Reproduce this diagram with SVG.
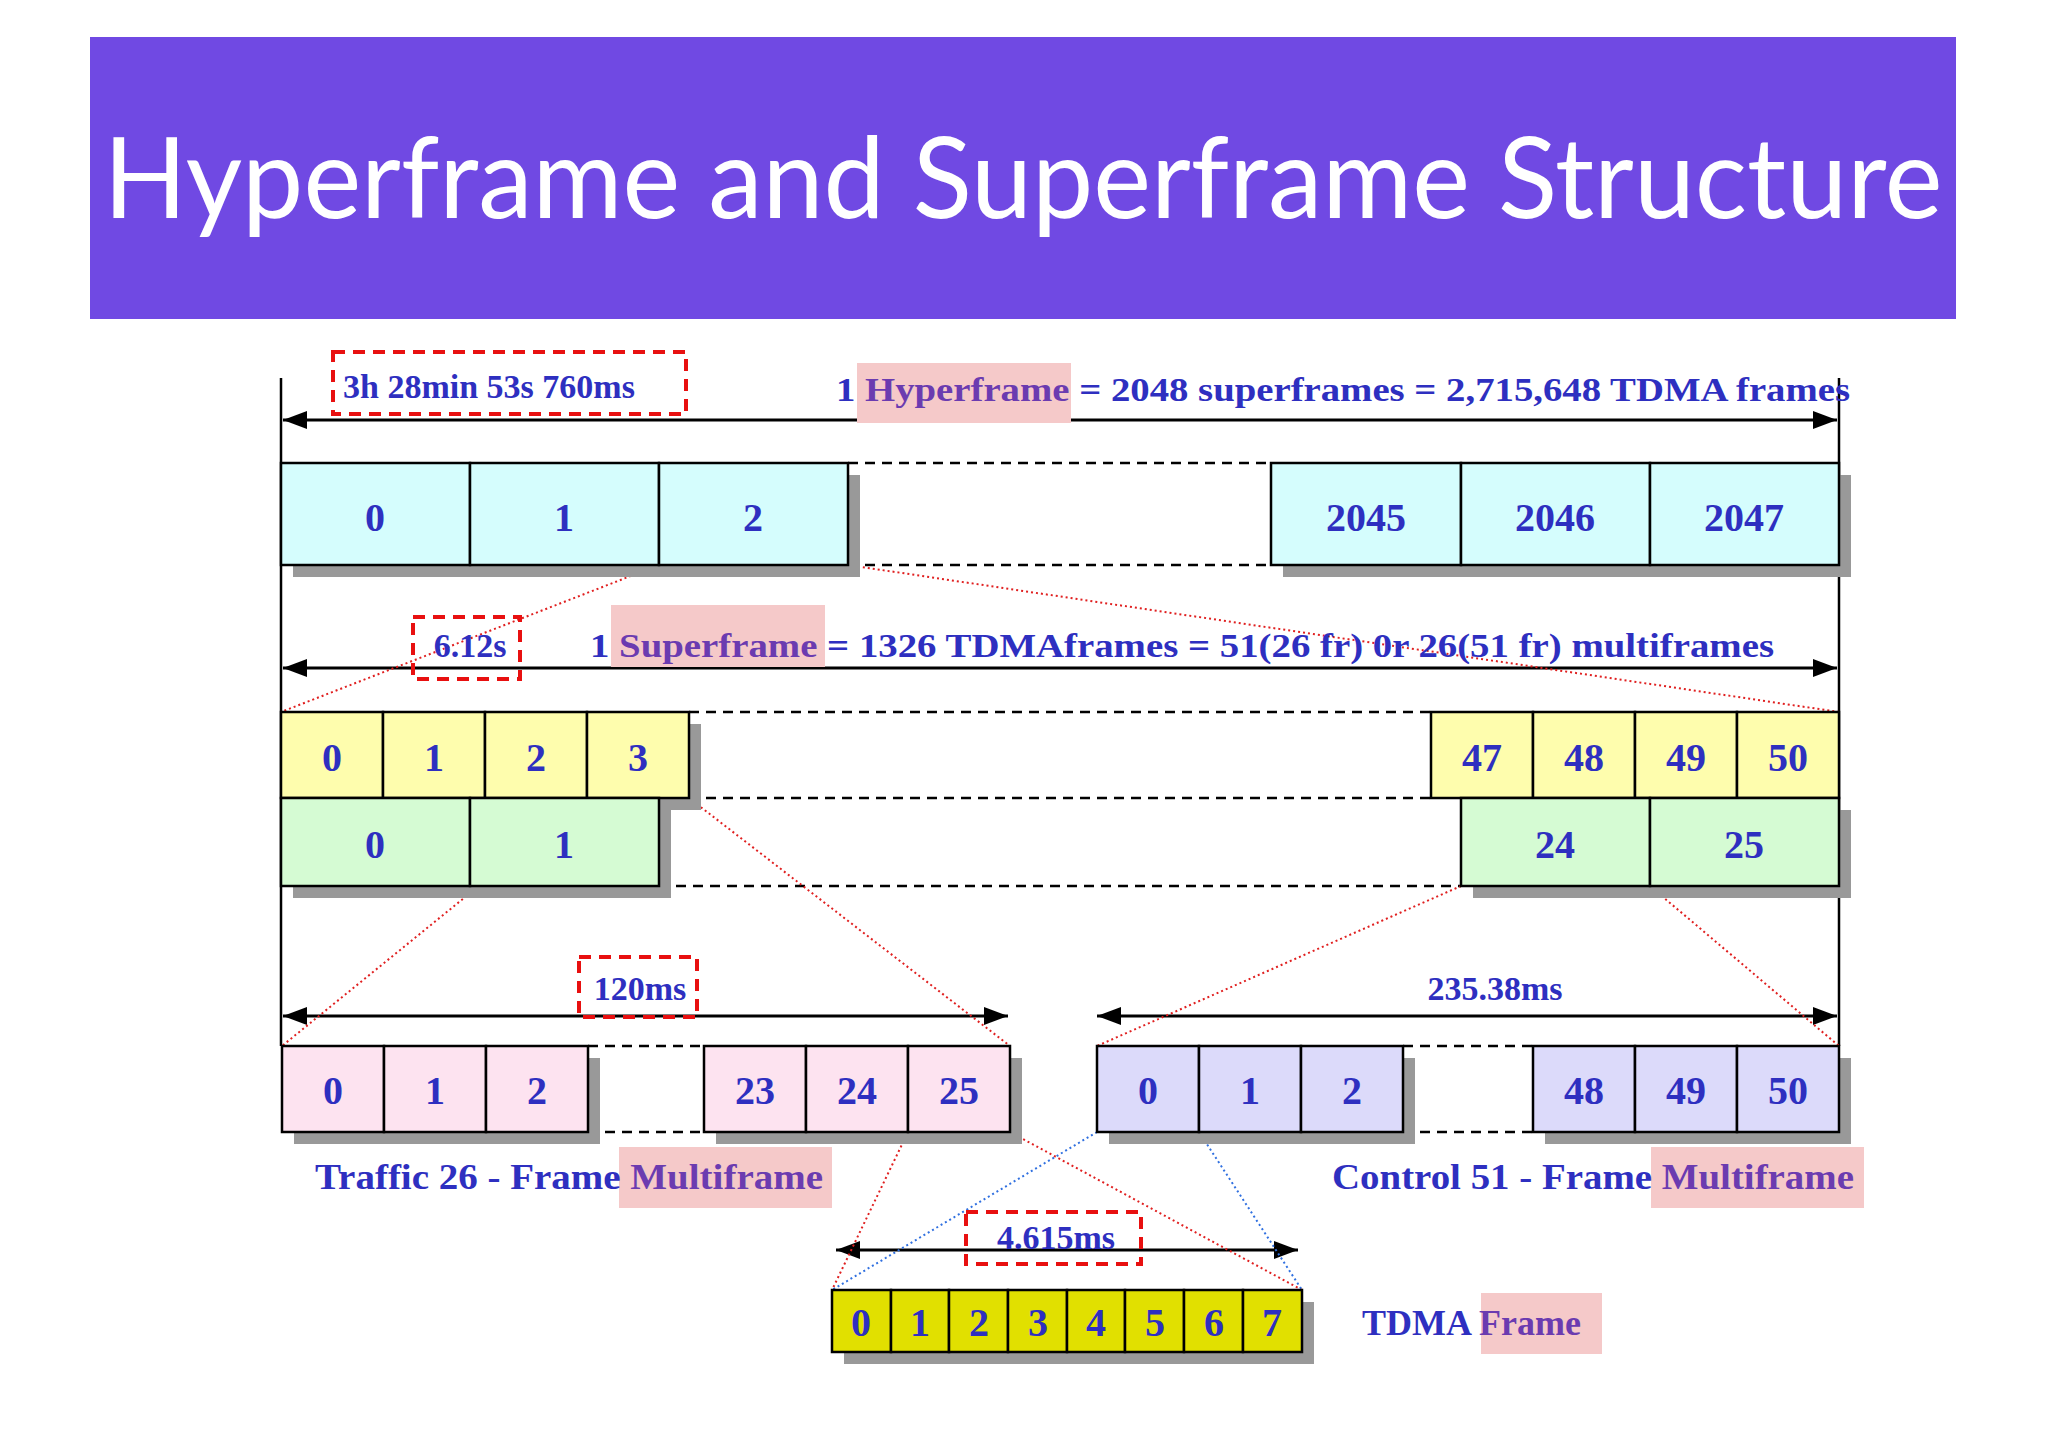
<svg xmlns="http://www.w3.org/2000/svg" width="2048" height="1448" viewBox="0 0 2048 1448">
<defs>
<marker id="ah" viewBox="0 0 10 10" refX="10" refY="5" markerWidth="24" markerHeight="18" orient="auto-start-reverse" markerUnits="userSpaceOnUse" preserveAspectRatio="none"><path d="M0,0 L10,5 L0,10 z" fill="#000"/></marker>
<style>
.t{font-family:"Liberation Serif",serif;font-weight:bold;fill:#2e2fc0}
.n{font-size:40px;text-anchor:middle}
.h{fill:#6b3bb0}
.hl{fill:#f5c9c9}
.box{stroke:#000;stroke-width:2.5}
.sh{fill:#999}
.dash{stroke:#000;stroke-width:2.5;stroke-dasharray:10 7;fill:none}
.rd{stroke:#e02020;stroke-width:2;stroke-dasharray:2 3;fill:none}
.bd{stroke:#3070e0;stroke-width:2;stroke-dasharray:2 3;fill:none}
.rbox{stroke:#e81010;stroke-width:4;stroke-dasharray:12 8;fill:none}
.arr{stroke:#000;stroke-width:3;marker-start:url(#ah);marker-end:url(#ah)}
</style>
</defs>
<rect width="2048" height="1448" fill="#fff"/>
<g id="header">
<rect x="90" y="37" width="1866" height="282" fill="#7049e3"/>
<text x="1023" y="218" text-anchor="middle" font-family="Lato,'Open Sans',sans-serif" font-size="112" fill="#fff" textLength="1839" lengthAdjust="spacingAndGlyphs">Hyperframe and Superframe Structure</text>
</g>
<g id="frame-lines">
<line x1="281" y1="378" x2="281" y2="1046" stroke="#000" stroke-width="2.5"/>
<line x1="1839" y1="378" x2="1839" y2="1046" stroke="#000" stroke-width="2.5"/>
</g>
<g id="connectors">
<line class="arr" x1="283" y1="420" x2="1837" y2="420"/>
<line class="arr" x1="283" y1="668" x2="1837" y2="668"/>
<line class="arr" x1="283" y1="1016" x2="1008" y2="1016"/>
<line class="arr" x1="1097" y1="1016" x2="1837" y2="1016"/>
<line class="arr" x1="836" y1="1250" x2="1298" y2="1250"/>
<path class="dash" d="M848,463H1271M848,565H1271M689,712H1431M689,798H1431M659,886H1461M588,1046H704M588,1132H704M1403,1046H1533M1403,1132H1533"/>
<path class="rd" d="M659,565L281,712M848,565L1839,712M587,798L282,1046M689,798L1010,1046M1461,886L1097,1046M1650,886L1839,1046M908,1132L832,1290M1010,1132L1302,1290"/>
<path class="bd" d="M1097,1132L832,1290M1199,1132L1302,1290"/>
</g>
<g id="hyperframe-label">
<rect class="rbox" x="333" y="352" width="353" height="62"/>
<text class="t" x="343" y="398" font-size="34">3h 28min 53s 760ms</text>
<rect class="hl" x="857" y="363" width="214" height="60"/>
<text class="t" x="836" y="401" font-size="34" textLength="1014" lengthAdjust="spacingAndGlyphs">1 <tspan class="h">Hyperframe</tspan> = 2048 superframes = 2,715,648 TDMA frames</text>
</g>
<g id="superframes">
<rect class="sh" x="293" y="475" width="567" height="102"/>
<rect class="sh" x="1283" y="475" width="568" height="102"/>
<g fill="#d5fdfd" class="box"><rect x="281" y="463" width="189" height="102"/><rect x="470" y="463" width="189" height="102"/><rect x="659" y="463" width="189" height="102"/><rect x="1271" y="463" width="190" height="102"/><rect x="1461" y="463" width="189" height="102"/><rect x="1650" y="463" width="189" height="102"/></g>
<g class="t n"><text x="375" y="531">0</text><text x="564" y="531">1</text><text x="753" y="531">2</text><text x="1366" y="531">2045</text><text x="1555" y="531">2046</text><text x="1744" y="531">2047</text></g>
</g>
<g id="superframe-label">
<rect class="rbox" x="413" y="617" width="107" height="62"/>
<rect class="hl" x="611" y="605" width="214" height="62"/>
<text class="t" x="590" y="657" font-size="34" textLength="1184" lengthAdjust="spacingAndGlyphs">1 <tspan class="h">Superframe</tspan> = 1326 TDMAframes = 51(26 fr) 0r 26(51 fr) multiframes</text>
<text class="t" x="470" y="657" font-size="34" text-anchor="middle">6.12s</text>
</g>
<g id="multiframes">
<rect class="sh" x="293" y="724" width="408" height="86"/>
<rect class="sh" x="293" y="810" width="378" height="88"/>
<rect class="sh" x="1473" y="810" width="378" height="88"/>
<g fill="#fefdad" class="box"><rect x="281" y="712" width="102" height="86"/><rect x="383" y="712" width="102" height="86"/><rect x="485" y="712" width="102" height="86"/><rect x="587" y="712" width="102" height="86"/><rect x="1431" y="712" width="102" height="86"/><rect x="1533" y="712" width="102" height="86"/><rect x="1635" y="712" width="102" height="86"/><rect x="1737" y="712" width="102" height="86"/></g>
<g fill="#d5fbd3" class="box"><rect x="281" y="798" width="189" height="88"/><rect x="470" y="798" width="189" height="88"/><rect x="1461" y="798" width="189" height="88"/><rect x="1650" y="798" width="189" height="88"/></g>
<g class="t n"><text x="332" y="771">0</text><text x="434" y="771">1</text><text x="536" y="771">2</text><text x="638" y="771">3</text><text x="1482" y="771">47</text><text x="1584" y="771">48</text><text x="1686" y="771">49</text><text x="1788" y="771">50</text>
<text x="375" y="858">0</text><text x="564" y="858">1</text><text x="1555" y="858">24</text><text x="1744" y="858">25</text></g>
</g>
<g id="traffic-multiframe">
<rect class="rbox" x="579" y="957" width="118" height="60"/>
<text class="t" x="640" y="1000" font-size="34" text-anchor="middle">120ms</text>
<rect class="sh" x="294" y="1058" width="306" height="86"/>
<rect class="sh" x="716" y="1058" width="306" height="86"/>
<g fill="#fde3f0" class="box"><rect x="282" y="1046" width="102" height="86"/><rect x="384" y="1046" width="102" height="86"/><rect x="486" y="1046" width="102" height="86"/><rect x="704" y="1046" width="102" height="86"/><rect x="806" y="1046" width="102" height="86"/><rect x="908" y="1046" width="102" height="86"/></g>
<g class="t n"><text x="333" y="1104">0</text><text x="435" y="1104">1</text><text x="537" y="1104">2</text><text x="755" y="1104">23</text><text x="857" y="1104">24</text><text x="959" y="1104">25</text></g>
<rect class="hl" x="619" y="1147" width="213" height="61"/>
<text class="t" x="315" y="1189" font-size="36" textLength="508" lengthAdjust="spacingAndGlyphs">Traffic 26 - Frame <tspan class="h">Multiframe</tspan></text>
</g>
<g id="control-multiframe">
<text class="t" x="1495" y="1000" font-size="34" text-anchor="middle">235.38ms</text>
<rect class="sh" x="1109" y="1058" width="306" height="86"/>
<rect class="sh" x="1545" y="1058" width="306" height="86"/>
<g fill="#dcdafa" class="box"><rect x="1097" y="1046" width="102" height="86"/><rect x="1199" y="1046" width="102" height="86"/><rect x="1301" y="1046" width="102" height="86"/><rect x="1533" y="1046" width="102" height="86"/><rect x="1635" y="1046" width="102" height="86"/><rect x="1737" y="1046" width="102" height="86"/></g>
<g class="t n"><text x="1148" y="1104">0</text><text x="1250" y="1104">1</text><text x="1352" y="1104">2</text><text x="1584" y="1104">48</text><text x="1686" y="1104">49</text><text x="1788" y="1104">50</text></g>
<rect class="hl" x="1651" y="1147" width="213" height="61"/>
<text class="t" x="1332" y="1189" font-size="36" textLength="522" lengthAdjust="spacingAndGlyphs">Control 51 - Frame <tspan class="h">Multiframe</tspan></text>
</g>
<g id="tdma-frame">
<rect class="rbox" x="966" y="1212" width="175" height="52"/>
<text class="t" x="1056" y="1249" font-size="34" text-anchor="middle">4.615ms</text>
<rect class="sh" x="844" y="1302" width="470" height="62"/>
<g fill="#e1e000" class="box"><rect x="832" y="1290" width="59" height="62"/><rect x="891" y="1290" width="58" height="62"/><rect x="949" y="1290" width="59" height="62"/><rect x="1008" y="1290" width="59" height="62"/><rect x="1067" y="1290" width="58" height="62"/><rect x="1125" y="1290" width="59" height="62"/><rect x="1184" y="1290" width="59" height="62"/><rect x="1243" y="1290" width="59" height="62"/></g>
<g class="t n"><text x="861" y="1336">0</text><text x="920" y="1336">1</text><text x="979" y="1336">2</text><text x="1038" y="1336">3</text><text x="1096" y="1336">4</text><text x="1155" y="1336">5</text><text x="1214" y="1336">6</text><text x="1272" y="1336">7</text></g>
<rect class="hl" x="1481" y="1293" width="121" height="61"/>
<text class="t" x="1362" y="1335" font-size="36">TDMA <tspan class="h">Frame</tspan></text>
</g>
</svg>
